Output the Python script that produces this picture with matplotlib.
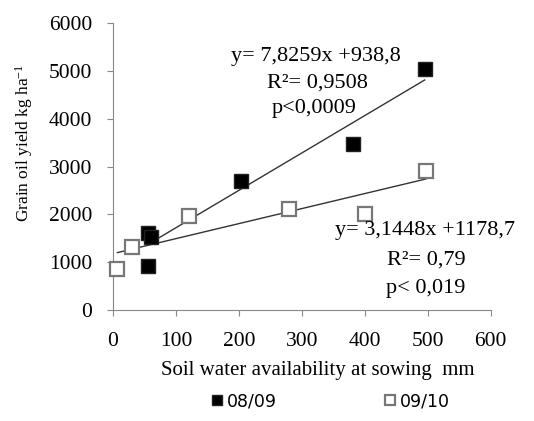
import matplotlib
matplotlib.use("Agg")
import matplotlib.pyplot as plt
import numpy as np

# Data
x_0809 = [55, 61, 56, 203, 381, 495]
y_0809 = [1620, 1530, 920, 2690, 3480, 5050]
x_0910 = [7, 30, 120, 279, 400, 497]
y_0910 = [850, 1320, 1960, 2120, 2010, 2910]
fit_0809 = (7.8259, 938.8)
fit_0910 = (3.1448, 1178.7)
xticks = [0, 100, 200, 300, 400, 500, 600]
yticks = [0, 1000, 2000, 3000, 4000, 5000, 6000]

serif = "Liberation Serif"
plt.rcParams["mathtext.fontset"] = "custom"
plt.rcParams["mathtext.rm"] = serif
plt.rcParams["mathtext.it"] = serif + ":italic"
plt.rcParams["mathtext.bf"] = serif + ":bold"

fig = plt.figure(figsize=(5.34, 4.21), dpi=100)
ax = fig.add_axes([0.2116, 0.2637, 0.9190 - 0.2116, 0.9447 - 0.2637])

ax.plot(x_0809, y_0809, "s", ms=10, mfc="black", mec="#222222", mew=1.0, zorder=3, label="08/09", clip_on=False)
ax.plot(x_0910, y_0910, "s", ms=10, mfc="white", mec="#777777", mew=1.6, zorder=3, label="09/10", clip_on=False)

xs1 = np.array([min(x_0809), max(x_0809)])
ax.plot(xs1, fit_0809[0] * xs1 + fit_0809[1], color="#333333", lw=1.0, zorder=2)
xs2 = np.array([min(x_0910), max(x_0910)])
ax.plot(xs2, fit_0910[0] * xs2 + fit_0910[1], color="#333333", lw=1.0, zorder=2)

ax.set_xlim(0, 600)
ax.set_ylim(0, 6000)
ax.set_xticks(xticks)
ax.set_yticks(yticks)
ax.tick_params(axis="both", direction="out", length=4, color="#888888", labelsize=15.5)
ax.tick_params(axis="y", pad=11)
ax.tick_params(axis="x", pad=12)
for lab in ax.get_xticklabels() + ax.get_yticklabels():
    lab.set_fontfamily(serif)
for s in ["top", "right"]:
    ax.spines[s].set_visible(False)
for s in ["left", "bottom"]:
    ax.spines[s].set_color("#888888")

def px(xp, yp):
    return (xp / 534, 1 - yp / 421)

fig.text(*px(161, 370), "Soil water availability at sowing  mm", ha="left", va="center",
         fontfamily=serif, fontsize=15)
fig.text(*px(24, 143), r"Grain oil yield kg ha$^{\mathrm{-1}}$", ha="center", va="center", rotation=90,
         fontfamily=serif, fontsize=12.5)

for txt, (xp, yp) in [("y= 7,8259x +938,8", (316, 56)), ("R²= 0,9508", (317, 83)), ("p<0,0009", (314, 108)),
                      ("y= 3,1448x +1178,7", (425, 230)), ("R²= 0,79", (426, 260)), ("p< 0,019", (426, 288))]:
    fig.text(*px(xp, yp), txt, ha="center", va="center", fontfamily=serif, fontsize=16)

leg = fig.legend(loc="center", bbox_to_anchor=(329 / 534, 1 - 401 / 421), ncol=2, frameon=False,
                 fontsize=12.5, handletextpad=0.1, columnspacing=6.0, markerscale=0.75, handlelength=1.0)
for t in leg.get_texts():
    t.set_fontfamily("DejaVu Sans")

fig.savefig("out.png", dpi=100)
